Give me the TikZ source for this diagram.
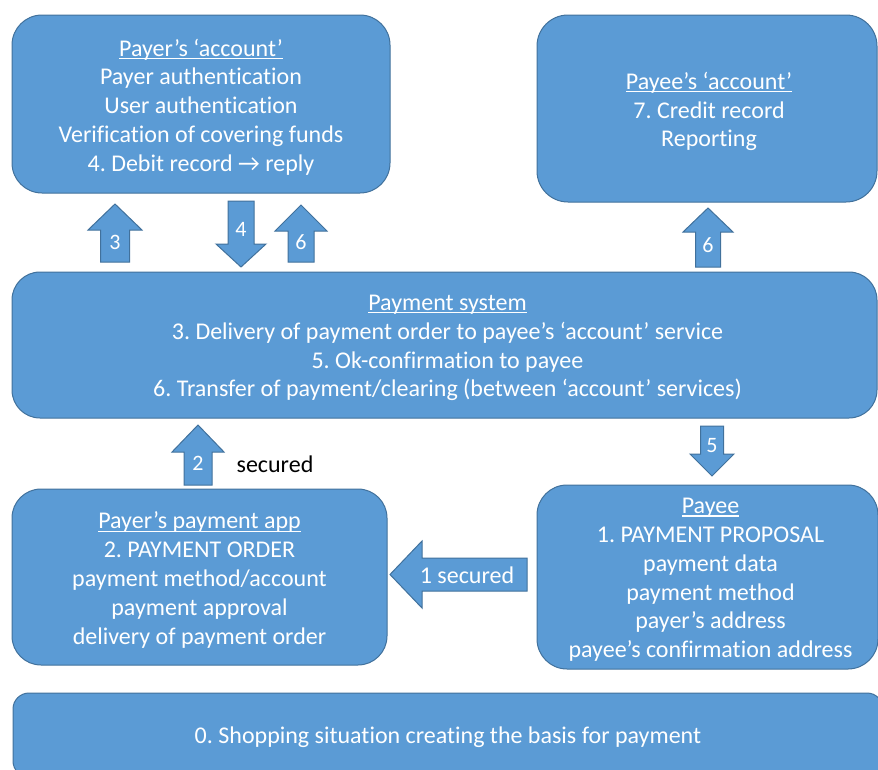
\documentclass[tikz,border=0pt]{standalone}
\usepackage{fontspec}
\setmainfont{Carlito}[Ligatures=NoCommon]
\definecolor{boxblue}{HTML}{5B9BD5}
\definecolor{boxline}{HTML}{41719C}

% underlined heading with the rule at a fixed depth below the baseline
\newcommand\headul[1]{\setbox0\hbox{#1}\rlap{\copy0}\rule[-3pt]{\wd0}{1.3pt}}
% vertical block arrow: centre x, tip y, head base y, tail y, head half width, shaft half width
\newcommand\blkvert[6]{%
  \filldraw[blk] ({#1},{#2}) -- ({#1+#5},{#3}) -- ({#1+#6},{#3}) -- ({#1+#6},{#4})
    -- ({#1-#6},{#4}) -- ({#1-#6},{#3}) -- ({#1-#5},{#3}) -- cycle;}
% horizontal block arrow: centre y, tip x, head base x, tail x, head half height, shaft half height
\newcommand\blkhoriz[6]{%
  \filldraw[blk] ({#2},{#1}) -- ({#3},{#1-#5}) -- ({#3},{#1-#6}) -- ({#4},{#1-#6})
    -- ({#4},{#1+#6}) -- ({#3},{#1+#6}) -- ({#3},{#1+#5}) -- cycle;}

\begin{document}
\begin{tikzpicture}[x=1pt,y=-1pt,
  box/.style={draw=boxline, fill=boxblue, line width=1pt, inner sep=0pt},
  boxtext/.style={text=white, align=center, inner sep=0pt, yshift=-3pt,
    font=\fontsize{24}{28.8}\selectfont\frenchspacing},
  blk/.style={draw=boxline, fill=boxblue, line width=1pt, line join=miter},
  numlbl/.style={text=white, inner sep=0pt, font=\fontsize{22}{26}\selectfont},
  sidelbl/.style={text=black, inner sep=0pt, font=\fontsize{24}{28}\selectfont}]
\useasboundingbox (0,0) rectangle (878,769);
\clip (0,0) rectangle (878,769);

% boxes
\node[box, minimum width=378, minimum height=178, rounded corners=30] (payeracc) at (201,104) {};
\node[box, minimum width=340, minimum height=187, rounded corners=31] (payeeacc) at (707,108.5) {};
\node[box, minimum width=865, minimum height=146, rounded corners=28] (paysys) at (444.5,345) {};
\node[box, minimum width=375, minimum height=176, rounded corners=29] (payapp) at (199.5,577) {};
\node[box, minimum width=341, minimum height=184, rounded corners=30] (payee) at (707.5,577) {};
\node[box, minimum width=870, minimum height=84, rounded corners=16] (shop) at (448,735) {};

% box contents
\node[boxtext] (payeracctxt) at (payeracc.center)
  {\headul{Payer’s ‘account’}\\Payer authentication\\User authentication\\Verification of covering funds\\4. Debit record → reply};
\node[boxtext] (payeeacctxt) at ([xshift=2pt]payeeacc.center)
  {\headul{Payee’s ‘account’}\\7. Credit record\\Reporting};
\node[boxtext] (paysystxt) at ([xshift=3pt]paysys.center)
  {\headul{Payment system}\\3. Delivery of payment order to payee’s ‘account’ service\\5. Ok-confirmation to payee\\6. Transfer of payment/clearing (between ‘account’ services)};
\node[boxtext] (payapptxt) at (payapp.center)
  {\headul{Payer’s payment app}\\2. PAYMENT ORDER\\payment method/account\\payment approval\\delivery of payment order};
\node[boxtext] (payeetxt) at ([xshift=3pt]payee.center)
  {\headul{Payee}\\1. PAYMENT PROPOSAL\\payment data\\payment method\\payer’s address\\payee’s confirmation address};
\node[boxtext, yshift=1pt] (shoptxt) at (shop.center)
  {0. Shopping situation creating the basis for payment};

% block arrows between the boxes
\blkvert{115}{204}{230}{262}{27}{14.5}
\blkvert{241}{267}{244}{201}{25}{13}
\blkvert{301}{205}{231}{262}{26}{13}
\blkvert{708}{208}{232}{267}{25}{12.5}
\blkvert{198}{425}{452}{485}{26}{14}
\blkvert{712}{476}{454}{426}{22}{11.5}
\blkhoriz{574.5}{390}{422}{527}{33.5}{16.5}

% arrow labels
\node[numlbl] (lblthree) at (115,242) {3};
\node[numlbl] (lblfour) at (241,229) {4};
\node[numlbl] (lblsixa) at (301,242) {6};
\node[numlbl] (lblsixb) at (708,245) {6};
\node[numlbl] (lbltwo) at (198,463) {2};
\node[numlbl] (lblfive) at (712,446) {5};
\node[sidelbl, text=white] (lblone) at (467,575) {1 secured};
\node[sidelbl] (lblsec) at (275,464) {secured};
\end{tikzpicture}
\end{document}
